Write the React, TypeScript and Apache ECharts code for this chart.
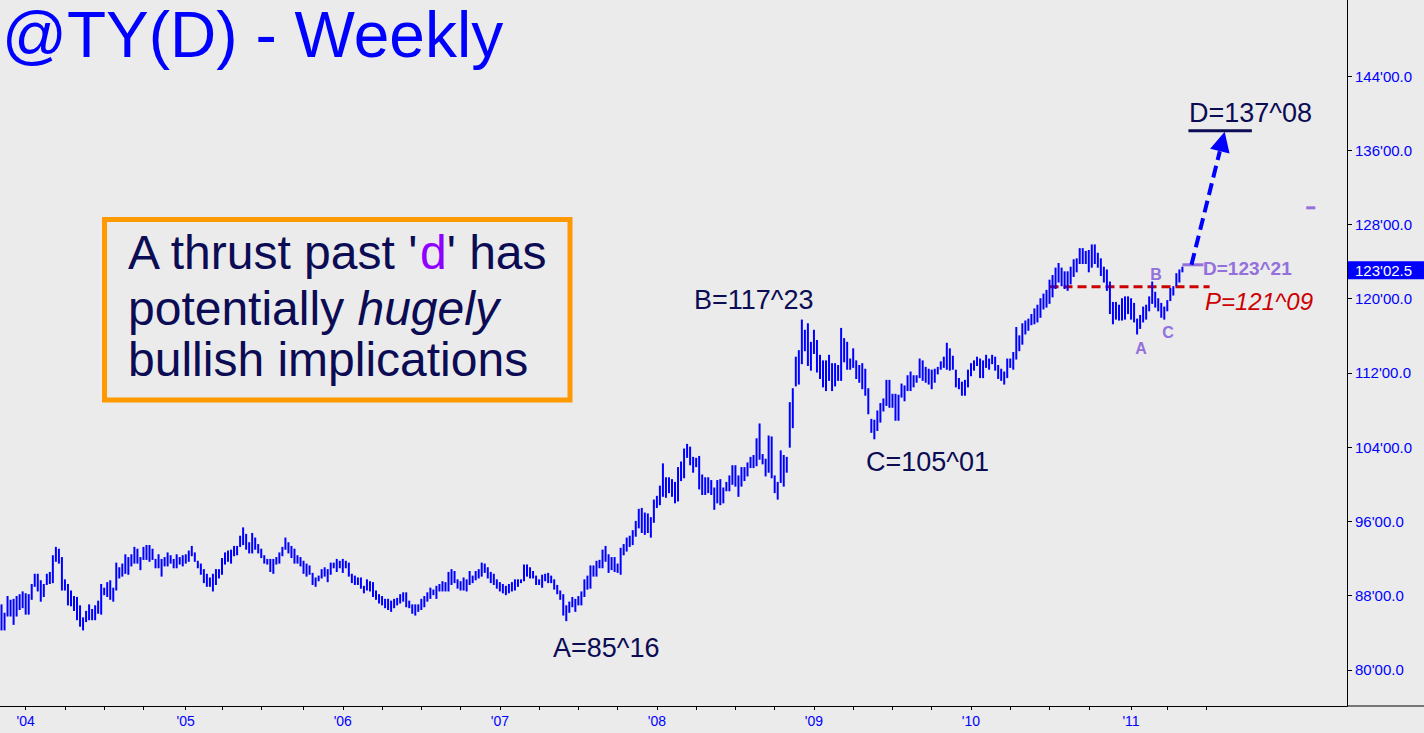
import React, { useEffect, useRef } from "react";
import * as echarts from "echarts";

const FONT = '"Liberation Sans", Arial, Helvetica, sans-serif';
const NAVY = "#0c0c55";
const BLUE = "#0000ff";
const PURPLE = "#9370db";

// weekly categories start (first bar) and total slots on the axis (incl. empty future weeks)
const START_DATE = "2003-11-07";
const CATEGORY_COUNT = 446;
const LAST_TICK_BEFORE = "2011-08-01";

// weekly highs and lows
const highs = [
  87.0, 86.1, 87.9, 87.5, 87.6, 87.9, 88.1, 88.4, 88.2, 88.1,
  89.2, 90.3, 90.3, 89.6, 89.2, 90.3, 90.5, 92.3, 93.2, 93.0,
  92.1, 89.7, 89.2, 88.5, 87.9, 87.8, 86.9, 85.6, 86.3, 87.0,
  86.5, 86.9, 87.4, 89.2, 88.8, 89.4, 89.6, 88.8, 91.5, 91.0,
  91.4, 92.4, 92.1, 92.4, 93.2, 93.0, 92.1, 93.2, 93.4, 93.4,
  93.0, 91.9, 92.4, 91.9, 92.1, 92.6, 92.3, 91.9, 92.4, 92.1,
  92.3, 92.4, 92.8, 93.3, 92.6, 91.7, 91.4, 90.8, 90.3, 89.9,
  90.3, 90.8, 90.8, 92.0, 92.6, 92.8, 92.9, 93.3, 93.3, 94.4,
  95.3, 94.6, 93.7, 94.7, 94.2, 93.5, 93.0, 92.3, 91.9, 91.9,
  91.9, 92.1, 92.6, 93.2, 94.2, 93.7, 93.3, 93.0, 92.3, 92.1,
  91.7, 91.4, 91.2, 90.4, 89.9, 90.1,
  90.8, 91.0, 90.8, 91.5, 91.5, 91.9, 91.7, 91.9, 91.7, 91.5,
  90.3, 90.1, 89.9, 89.9, 89.0, 89.7, 89.5, 89.4, 88.5, 88.1,
  87.9, 87.6, 87.6, 87.4, 87.6, 87.7, 88.1, 88.3, 88.3, 87.4,
  87.0, 87.0, 87.0, 87.6, 87.9, 88.3, 88.8, 88.6, 89.0, 89.2,
  89.5, 89.4, 90.5, 90.8, 90.6, 89.7, 89.5, 89.9, 89.7, 90.6,
  90.1, 90.6, 90.8, 91.5, 91.4, 91.0, 90.5, 90.3, 89.7, 89.4,
  89.2, 89.0, 89.2, 89.4, 89.7, 89.7,
  89.7, 91.3, 91.3, 91.0, 90.6, 90.1, 89.7, 90.2, 90.3, 90.4,
  90.1, 89.7, 89.1, 88.5, 88.1, 86.9, 87.3, 87.8, 87.6, 87.9,
  88.4, 89.7, 90.1, 91.2, 91.2, 91.7, 91.8, 92.9, 93.3, 92.4,
  92.1, 92.1, 91.4, 93.1, 93.5, 94.2, 94.4, 95.0, 96.0, 97.3,
  97.4, 96.9, 96.8, 96.4, 98.3, 98.7, 99.8, 102.2, 100.7, 100.7,
  100.5, 100.2, 101.8, 102.4, 103.8, 104.3, 104.0, 102.9, 102.8, 103.0,
  101.0, 100.7, 100.7, 100.4, 99.6, 100.4, 100.5, 99.6, 100.2, 100.9,
  102.0, 102.0, 100.9, 101.8, 101.8, 102.3, 102.9, 103.1, 104.9, 106.5,
  103.2, 102.7, 105.2, 105.1, 100.9, 100.2, 103.6, 103.1, 102.9, 108.8,
  110.3, 113.7, 114.4, 117.7,
  116.6, 117.3, 115.3, 116.6, 115.5, 113.9, 113.3, 113.3, 113.9, 113.0,
  113.0, 112.8, 116.8, 115.7, 115.3, 113.5, 114.6, 113.3, 112.8, 113.0,
  112.4, 110.3, 107.0, 106.9,
  107.9, 108.7, 109.2, 111.2, 111.2, 109.7, 109.7, 109.6, 110.8, 110.6,
  111.7, 112.1, 111.7, 111.7, 113.5, 113.3, 112.6, 112.4, 112.3, 112.4,
  112.6, 113.2, 113.7, 115.2, 114.6, 113.8, 112.3, 111.4, 111.0,
  111.2, 112.3, 113.0, 113.3, 113.7, 113.5, 113.3, 113.9, 113.5, 113.9,
  113.7, 112.8, 112.4, 112.1, 113.5,
  113.5, 114.2, 116.9, 116.0, 117.3, 117.6,
  117.8, 118.3, 118.9, 119.3, 120.0, 120.5, 120.9, 122.0, 122.5, 123.3,
  123.8, 123.3, 122.9, 122.9, 123.4, 124.2, 124.3, 125.4, 125.4, 125.1,
  125.2, 125.8,
  125.8, 124.9, 124.3, 123.4, 123.1, 121.8, 119.6, 119.6, 119.3, 120.0,
  120.2, 120.2, 120.0, 119.5, 117.8,
  118.2, 119.1, 119.3, 120.2, 121.8,
  120.7, 120.0, 119.5, 119.1,
  119.8, 121.1, 121.3, 122.7, 123.1, 123.4,
];

const lows = [
  84.3, 84.3, 85.8, 85.8, 84.9, 85.8, 86.5, 86.7, 86.0, 86.0,
  87.6, 89.0, 88.5, 87.4, 87.9, 89.2, 89.3, 89.4, 91.7, 91.5,
  88.6, 88.6, 87.0, 86.9, 86.4, 85.4, 84.7, 84.3, 85.2, 85.4,
  85.4, 85.4, 86.1, 86.0, 88.1, 87.9, 87.6, 87.4, 88.6, 89.9,
  90.1, 90.4, 90.3, 91.2, 91.5, 91.5, 90.8, 91.9, 91.9, 91.7,
  91.9, 91.0, 91.0, 90.1, 91.2, 91.2, 91.5, 91.0, 91.0, 91.4,
  91.2, 91.5, 91.7, 92.3, 91.7, 91.0, 90.3, 89.4, 89.0, 89.0,
  88.5, 89.2, 89.9, 90.3, 91.4, 91.7, 91.5, 92.3, 92.4, 93.3,
  93.5, 93.0, 92.6, 92.6, 93.0, 92.6, 92.1, 91.5, 91.4, 90.6,
  90.4, 91.4, 91.5, 92.3, 93.0, 92.6, 92.1, 91.5, 91.5, 91.2,
  90.4, 90.1, 90.3, 89.2, 89.0, 89.6,
  89.9, 90.1, 89.5, 90.3, 91.0, 90.6, 91.0, 90.5, 91.0, 90.1,
  89.4, 89.2, 89.2, 88.8, 88.3, 88.6, 88.5, 87.9, 87.6, 87.2,
  87.0, 86.7, 86.5, 86.3, 86.7, 87.0, 87.2, 87.4, 86.8, 86.7,
  86.1, 85.9, 86.3, 86.5, 86.8, 87.4, 87.7, 88.1, 87.7, 88.5,
  88.5, 88.5, 88.5, 89.2, 89.4, 88.8, 88.6, 88.6, 88.5, 89.2,
  89.4, 89.7, 89.9, 90.1, 90.5, 89.9, 89.4, 89.2, 88.8, 88.5,
  88.3, 88.1, 88.3, 88.5, 88.6, 89.0,
  89.4, 89.6, 90.1, 89.9, 89.9, 89.2, 89.2, 88.9, 89.6, 89.4,
  89.4, 88.7, 88.2, 87.6, 85.9, 85.3, 86.2, 86.8, 86.3, 87.0,
  87.0, 87.9, 88.7, 88.8, 90.1, 90.1, 91.0, 91.0, 91.7, 90.5,
  90.8, 90.6, 90.5, 90.3, 92.4, 92.8, 93.3, 93.5, 94.4, 95.3,
  94.8, 94.6, 94.8, 94.3, 95.9, 97.5, 97.8, 98.7, 98.6, 99.1,
  98.7, 98.0, 98.2, 100.4, 100.7, 102.9, 102.1, 101.3, 101.9, 99.5,
  98.9, 98.9, 99.1, 98.9, 97.3, 98.0, 97.8, 98.0, 99.3, 99.3,
  100.0, 99.8, 98.7, 99.8, 100.4, 100.9, 101.8, 101.8, 102.0, 102.7,
  102.2, 100.9, 101.3, 100.7, 99.1, 98.4, 100.2, 99.8, 101.3, 104.0,
  106.1, 110.6, 110.8, 113.0,
  114.4, 112.8, 112.3, 114.1, 112.1, 111.4, 110.5, 110.1, 111.2, 110.1,
  110.6, 111.2, 111.2, 113.2, 112.4, 112.4, 112.6, 111.4, 111.0, 110.3,
  109.6, 107.6, 105.6, 104.9,
  105.8, 106.7, 107.9, 108.5, 108.3, 108.3, 106.9, 106.9, 109.4, 109.0,
  110.1, 110.1, 110.5, 111.0, 111.5, 111.2, 111.0, 110.8, 110.3, 111.0,
  111.9, 112.4, 112.6, 112.4, 112.3, 112.4, 110.5, 110.3, 109.6,
  109.6, 110.5, 111.7, 112.3, 112.8, 111.5, 111.5, 112.6, 112.4, 113.0,
  112.3, 111.4, 111.2, 110.8, 111.5,
  112.6, 112.4, 113.5, 114.4, 115.1, 116.2,
  116.6, 117.2, 117.3, 117.5, 118.0, 118.9, 119.1, 119.5, 120.2, 121.1,
  121.8, 121.4, 121.1, 120.9, 121.6, 122.4, 122.9, 123.8, 123.8, 123.8,
  122.9, 123.4,
  123.8, 123.4, 122.5, 121.8, 120.9, 118.4, 117.3, 117.8, 117.7, 117.7,
  117.8, 118.4, 117.8, 117.5, 116.2,
  116.8, 117.5, 117.8, 118.7, 119.5,
  119.1, 118.7, 118.0, 117.8,
  118.7, 119.8, 120.4, 121.4, 121.8, 122.9,
];

const yTickValues = [80, 88, 96, 104, 112, 120, 128, 136, 144];
const yMin = 76.1;
const yMax = 152.2;
const lastPrice = 123.08;
const lastPriceText = "123'02.5";
const levelP = 121.28; // P=121^09
const levelSmallD = 123.66; // D=123^21
const levelBigD = 138.1; // underline drawn under D=137^08
const strayMark = 129.8;

export default function App() {
  const ref = useRef<HTMLDivElement>(null);

  useEffect(() => {
    if (!ref.current) return;
    const chart = echarts.init(ref.current, null, { renderer: "svg" });

    const start = new Date(START_DATE + "T00:00:00Z").getTime();
    const cats: string[] = [];
    for (let i = 0; i < CATEGORY_COUNT; i++) {
      cats.push(new Date(start + i * 7 * 86400000).toISOString().slice(0, 10));
    }
    const isYearStart = (i: number) =>
      i > 0 && cats[i] < LAST_TICK_BEFORE && cats[i].slice(0, 4) !== cats[i - 1].slice(0, 4);
    const isQuarterStart = (i: number) => {
      if (i === 0 || cats[i] >= LAST_TICK_BEFORE) return false;
      const m = +cats[i].slice(5, 7);
      const pm = +cats[i - 1].slice(5, 7);
      return m !== pm && (m === 1 || m === 4 || m === 7 || m === 10);
    };

    const data = highs.map((h, i) => [i, h, lows[i]]);

    chart.setOption({
      animation: false,
      backgroundColor: "#ebebeb",
      grid: { left: 0, right: 77, top: 0, bottom: 27, containLabel: false, outerBoundsMode: "none" },
      xAxis: {
        type: "category",
        data: cats,
        boundaryGap: true,
        axisLine: { show: true, lineStyle: { color: "#000", width: 1 } },
        axisTick: {
          show: true,
          alignWithLabel: true,
          length: 4,
          interval: (i: number) => isQuarterStart(i),
          lineStyle: { color: "#000" },
        },
        axisLabel: {
          interval: (i: number) => isYearStart(i),
          formatter: (v: string) => "'" + v.slice(2, 4),
          color: BLUE,
          fontFamily: FONT,
          fontSize: 14,
          margin: 8,
        },
        splitLine: { show: false },
      },
      yAxis: {
        type: "value",
        position: "right",
        min: yMin,
        max: yMax,
        axisLine: { show: true, lineStyle: { color: "#000", width: 1 } },
        axisTick: { show: true, length: 5, customValues: yTickValues, lineStyle: { color: "#000" } },
        axisLabel: {
          customValues: yTickValues,
          formatter: (v: number) => `${v}'00.0`,
          color: BLUE,
          fontFamily: FONT,
          fontSize: 15,
          margin: 8,
        },
        splitLine: { show: false },
      },
      series: [
        {
          type: "custom",
          data,
          encode: { x: 0, y: [1, 2] },
          renderItem: (_params: any, api: any) => {
            const i = api.value(0);
            const hi = api.coord([i, api.value(1)]);
            const lo = api.coord([i, api.value(2)]);
            return {
              type: "line",
              shape: { x1: hi[0], y1: hi[1] - 0.5, x2: lo[0], y2: lo[1] + 0.5 },
              style: { stroke: BLUE, lineWidth: 2 },
            };
          },
        },
      ],
    });

    const P = (i: number, v: number) =>
      chart.convertToPixel({ gridIndex: 0 }, [i, v]) as number[];

    const bottomY = P(0, yMin)[1];
    const axisX = 1424 - 77;

    // arrow
    const aStart = P(394, levelSmallD);
    const aTip = P(404.5, 138.0);
    const dx = aTip[0] - aStart[0];
    const dy = aTip[1] - aStart[1];
    const len = Math.sqrt(dx * dx + dy * dy);
    const ux = dx / len;
    const uy = dy / len;
    const headL = 20;
    const headW = 10;
    const bx = aTip[0] - ux * headL;
    const by = aTip[1] - uy * headL;
    const nx = -uy;
    const ny = ux;

    const pL1 = P(347, levelP);
    const pL2 = P(400, levelP);
    const dL1 = P(390.9, levelSmallD);
    const dL2 = P(397.5, levelSmallD);
    const uL1 = P(392.5, levelBigD);
    const uL2 = P(414.1, levelBigD);
    const s1 = P(432.3, strayMark);
    const s2 = P(435.3, strayMark);
    const lp = P(0, lastPrice);

    const text = (x: number, y: number, t: string, font: string, fill: string, extra: any = {}) => ({
      type: "text",
      x,
      y,
      silent: true,
      style: { text: t, font, fill, textAlign: "left", textVerticalAlign: "middle", ...extra },
    });

    const boxFont = `48px ${FONT}`;

    chart.setOption({
      graphic: [
        { type: "line", silent: true, shape: { x1: axisX, y1: bottomY, x2: 1424, y2: bottomY }, style: { stroke: "#000", lineWidth: 1 } },
        text(2, 34.5, "@TY(D) - Weekly", `64px ${FONT}`, BLUE),
        {
          type: "rect",
          silent: true,
          shape: { x: 104.5, y: 219.5, width: 465.5, height: 180.5 },
          style: { fill: "none", stroke: "#ff9900", lineWidth: 5 },
        },
        {
          type: "text",
          x: 128,
          y: 252,
          silent: true,
          style: {
            text: "A thrust past '{d|d}' has",
            font: boxFont,
            fill: NAVY,
            textAlign: "left",
            textVerticalAlign: "middle",
            rich: { d: { font: boxFont, fill: "#9000ff" } },
          },
        },
        {
          type: "text",
          x: 128,
          y: 308,
          silent: true,
          style: {
            text: "potentially {i|hugely}",
            font: boxFont,
            fill: NAVY,
            textAlign: "left",
            textVerticalAlign: "middle",
            rich: { i: { font: `italic ${boxFont}`, fill: NAVY } },
          },
        },
        text(128, 359, "bullish implications", boxFont, NAVY),
        text(694, 300, "B=117^23", `27px ${FONT}`, NAVY),
        text(866, 462, "C=105^01", `27px ${FONT}`, NAVY),
        text(553, 648, "A=85^16", `27px ${FONT}`, NAVY),
        text(1189, 112.5, "D=137^08", `27px ${FONT}`, NAVY),
        { type: "line", silent: true, shape: { x1: uL1[0], y1: uL1[1], x2: uL2[0], y2: uL2[1] }, style: { stroke: NAVY, lineWidth: 3 } },
        { type: "line", silent: true, shape: { x1: pL1[0], y1: pL1[1], x2: pL2[0], y2: pL2[1] }, style: { stroke: "#cc0000", lineWidth: 3, lineDash: [9, 5] } },
        text(1205, 301.5, "P=121^09", `italic 24px ${FONT}`, "#cc0000"),
        { type: "line", silent: true, shape: { x1: dL1[0], y1: dL1[1], x2: dL2[0], y2: dL2[1] }, style: { stroke: PURPLE, lineWidth: 3 } },
        text(1203, 268.5, "D=123^21", `bold 19px ${FONT}`, PURPLE),
        text(1141, 348, "A", `bold 16px ${FONT}`, PURPLE, { textAlign: "center" }),
        text(1156, 274.5, "B", `bold 16px ${FONT}`, PURPLE, { textAlign: "center" }),
        text(1168, 332, "C", `bold 16px ${FONT}`, PURPLE, { textAlign: "center" }),
        {
          type: "line",
          silent: true,
          shape: { x1: aStart[0], y1: aStart[1], x2: bx, y2: by },
          style: { stroke: BLUE, lineWidth: 4, lineDash: [12, 6] },
        },
        {
          type: "polygon",
          silent: true,
          shape: {
            points: [
              [aTip[0], aTip[1]],
              [bx + nx * headW, by + ny * headW],
              [bx - nx * headW, by - ny * headW],
            ],
          },
          style: { fill: BLUE },
        },
        { type: "line", silent: true, shape: { x1: s1[0], y1: s1[1], x2: s2[0], y2: s2[1] }, style: { stroke: PURPLE, lineWidth: 3 } },
        {
          type: "rect",
          silent: true,
          shape: { x: axisX + 0.5, y: lp[1] - 9, width: 1424 - axisX, height: 18 },
          style: { fill: BLUE },
        },
        text(axisX + 8, lp[1], lastPriceText, `15px ${FONT}`, "#ffffff"),
      ],
    });

    return () => chart.dispose();
  }, []);

  return (
    <div
      ref={ref}
      style={{ position: "fixed", left: 0, top: 0, width: 1424, height: 733, background: "#ebebeb" }}
    />
  );
}
